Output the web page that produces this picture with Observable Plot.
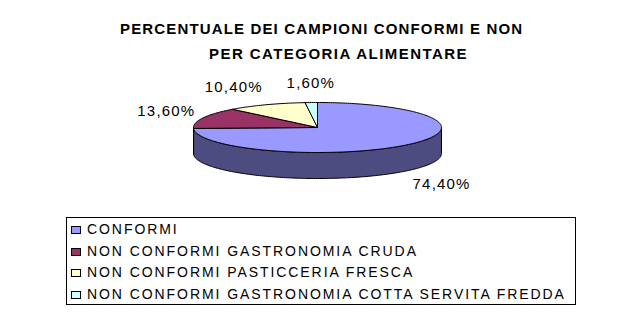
<!DOCTYPE html>
<html><head><meta charset="utf-8">
<script src="https://cdn.jsdelivr.net/npm/d3@7"></script>
<script src="https://cdn.jsdelivr.net/npm/@observablehq/plot@0.6"></script>
<style>
html,body{margin:0;padding:0;background:#fff;}
#wrap{position:relative;width:634px;height:312px;overflow:hidden;font-family:"Liberation Sans",Arial,sans-serif;}
#wrap svg{position:absolute;left:0;top:0;}
.title{position:absolute;font-weight:bold;font-size:15px;line-height:17px;color:#000;white-space:nowrap;letter-spacing:1.15px;}
#legend{position:absolute;left:66px;top:217px;width:508px;height:86px;border:1px solid #000;box-sizing:content-box;}
.row{position:absolute;left:4px;height:20px;line-height:20px;font-size:14px;white-space:nowrap;letter-spacing:1.93px;}
.sw{display:inline-block;width:8px;height:6px;border:1px solid #000;margin-right:6px;vertical-align:0px;}
</style></head>
<body><div id="wrap"></div>
<script>
const titleLines = ["PERCENTUALE DEI CAMPIONI CONFORMI E NON", "PER CATEGORIA ALIMENTARE"];
const categories = ["CONFORMI", "NON CONFORMI GASTRONOMIA CRUDA", "NON CONFORMI PASTICCERIA FRESCA", "NON CONFORMI GASTRONOMIA COTTA SERVITA FREDDA"];
const values = [74.4, 13.6, 10.4, 1.6];
const valueLabels = ["74,40%", "13,60%", "10,40%", "1,60%"];
const topColors = ["#9999FF", "#993366", "#FFFFCC", "#CCFFFF"];
const sideColors = ["#4C4C80", "#4D1A33", "#808066", "#668080"];

// layout
const W = 634, H = 312;
const cx = 317, cy = 127, rx = 124, ry = 25, depth = 26;
const lrx = 132, lry = 44;

const total = d3.sum(values);
const rad = a => a * Math.PI / 180;
const pt = (a, dy = 0) => ({x: cx + rx * Math.sin(rad(a)), y: cy - ry * Math.cos(rad(a)) + dy});

let acc = 0;
const slices = values.map((v, i) => {
  const a0 = acc; acc += v / total * 360; return {i, a0, a1: acc};
});

function arc(a0, a1, dy = 0) {
  const pts = [];
  const n = Math.max(2, Math.ceil(Math.abs(a1 - a0)));
  for (let k = 0; k <= n; k++) pts.push(pt(a0 + (a1 - a0) * k / n, dy));
  return pts;
}

const sideData = [];
slices.forEach(s => {
  const s0 = Math.max(s.a0, 90), s1 = Math.min(s.a1, 270);
  if (s1 > s0) {
    const pts = [...arc(s0, s1), ...arc(s1, s0, depth)];
    pts.push(pts[0]);
    pts.forEach(p => sideData.push({...p, id: "side" + s.i, fill: sideColors[s.i]}));
  }
});

const topData = [];
slices.forEach(s => {
  const pts = [{x: cx, y: cy}, ...arc(s.a0, s.a1), {x: cx, y: cy}];
  pts.forEach(p => topData.push({...p, id: "top" + s.i, fill: topColors[s.i]}));
});

const labelData = slices.map(s => {
  const m = (s.a0 + s.a1) / 2;
  const sn = Math.sin(rad(m)), cs = Math.cos(rad(m));
  return {
    x: cx + lrx * sn,
    y: cy - lry * cs + (cs < 0 ? depth : 0),
    text: valueLabels[s.i],
    anchor: sn < -0.3 ? "end" : sn > 0.3 ? "start" : "middle"
  };
});

const font = "'Liberation Sans', Arial, sans-serif";
const textOpts = a => ({filter: d => d.anchor === a, x: "x", y: "y", text: "text", textAnchor: a, fontSize: 15, fill: "#000", fontFamily: font});

const chart = Plot.plot({
  width: W, height: H,
  margin: 0,
  x: {domain: [0, W], range: [0, W], axis: null},
  y: {domain: [0, H], range: [0, H], axis: null},
  color: {type: "identity"},
  style: {background: "transparent", fontFamily: font, letterSpacing: "1.2px"},
  marks: [
    Plot.line(sideData, {x: "x", y: "y", z: "id", fill: "fill", stroke: "#000", strokeWidth: 1, curve: "linear"}),
    Plot.line(topData, {x: "x", y: "y", z: "id", fill: "fill", stroke: "#000", strokeWidth: 1, curve: "linear"}),
    Plot.text(labelData, textOpts("start")),
    Plot.text(labelData, textOpts("end")),
    Plot.text(labelData, textOpts("middle"))
  ]
});

const wrap = document.getElementById("wrap");
wrap.appendChild(chart);

const t1 = document.createElement("div");
t1.className = "title"; t1.textContent = titleLines[0];
t1.style.left = "120px"; t1.style.top = "20px";
wrap.appendChild(t1);
const t2 = document.createElement("div");
t2.className = "title"; t2.textContent = titleLines[1];
t2.style.left = "209px"; t2.style.top = "45px"; t2.style.letterSpacing = "1.45px";
wrap.appendChild(t2);

const legend = document.createElement("div");
legend.id = "legend";
categories.forEach((c, i) => {
  const r = document.createElement("div");
  r.className = "row";
  r.style.top = (1 + i * 21.7) + "px";
  const sw = document.createElement("span");
  sw.className = "sw"; sw.style.background = topColors[i];
  r.appendChild(sw);
  r.appendChild(document.createTextNode(c));
  legend.appendChild(r);
});
wrap.appendChild(legend);
</script>
</body></html>
